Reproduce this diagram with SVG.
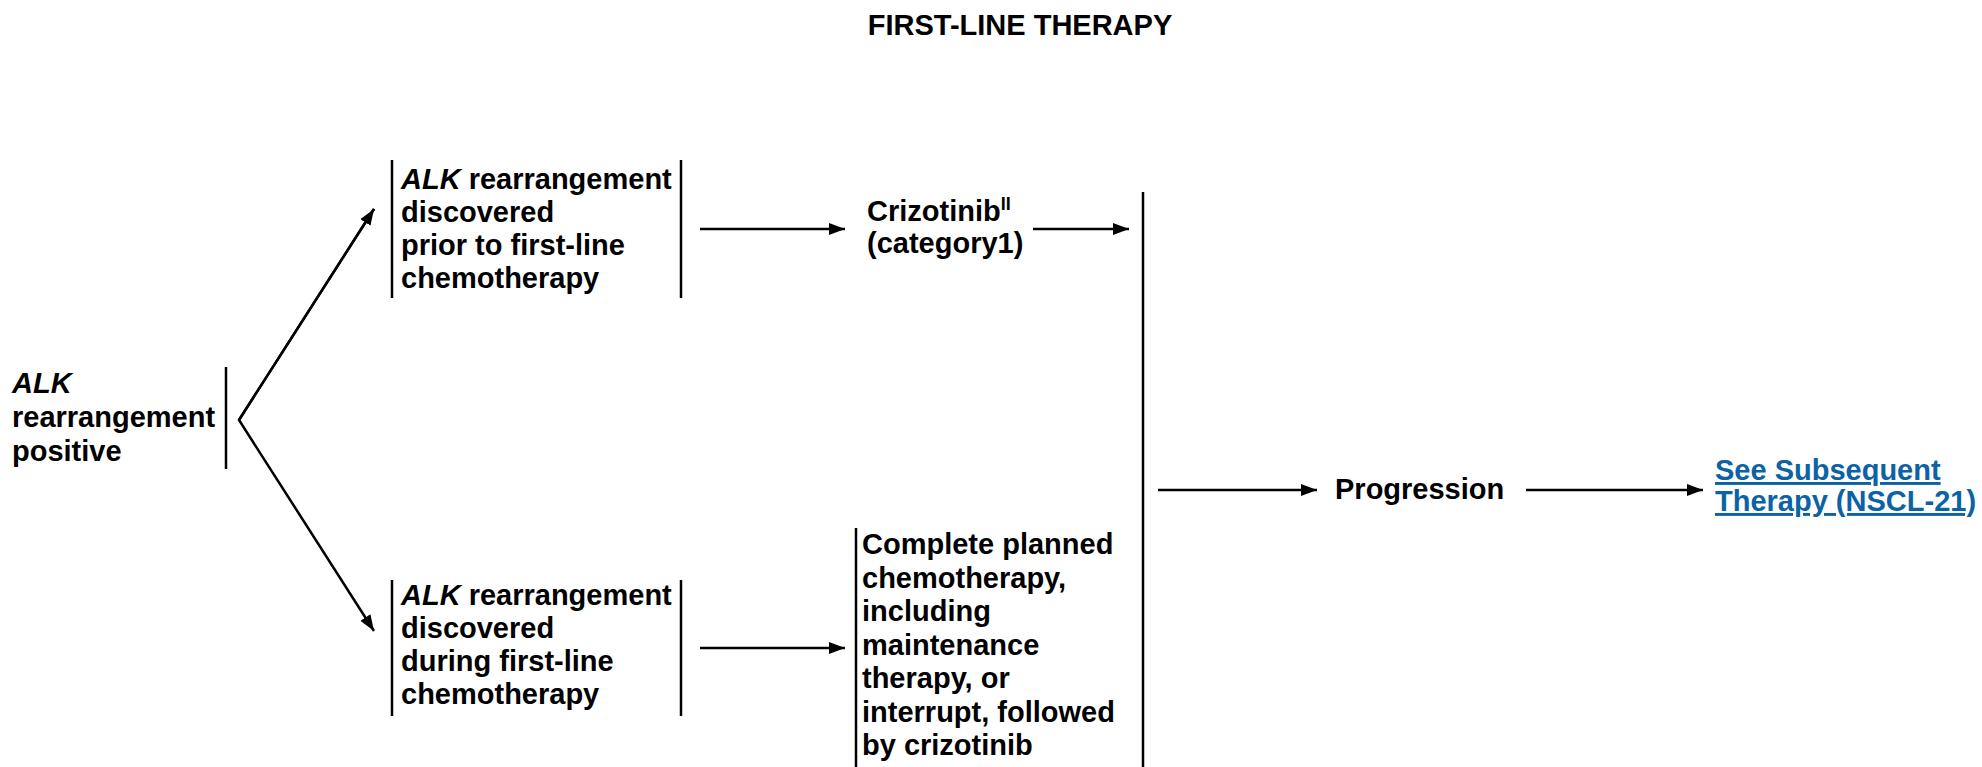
<svg xmlns="http://www.w3.org/2000/svg" width="1982" height="767" viewBox="0 0 1982 767">
<style>
text{font-family:"Liberation Sans",Arial,sans-serif;font-weight:bold;font-size:29px;fill:#000}
.i{font-style:italic}
.sup{font-size:18px}
.link{fill:#0b63a6;text-decoration:underline}
.bar{stroke:#000;stroke-width:2.5;fill:none}
.conn{stroke:#000;stroke-width:2.5;fill:none}
</style>
<defs>
<marker id="ah" markerUnits="userSpaceOnUse" markerWidth="18" markerHeight="14" refX="16" refY="7" orient="auto">
<path d="M0,1 L16,7 L0,13 Z" fill="#000"/>
</marker>
</defs>
<rect width="1982" height="767" fill="#fff"/>
<g id="title"><text x="1020" y="35" text-anchor="middle">FIRST-LINE THERAPY</text></g>
<g id="alk-positive">
<text x="12" y="393"><tspan class="i">ALK</tspan></text>
<text x="12" y="427">rearrangement</text>
<text x="12" y="461">positive</text>
<line class="bar" x1="226" y1="367" x2="226" y2="469"/>
</g>
<g id="prior">
<line class="bar" x1="392" y1="160" x2="392" y2="298"/>
<text x="401" y="189"><tspan class="i">ALK</tspan> rearrangement</text>
<text x="401" y="222">discovered</text>
<text x="401" y="255">prior to first-line</text>
<text x="401" y="288">chemotherapy</text>
<line class="bar" x1="681" y1="160" x2="681" y2="298"/>
</g>
<g id="during">
<line class="bar" x1="392" y1="580" x2="392" y2="716"/>
<text x="401" y="605"><tspan class="i">ALK</tspan> rearrangement</text>
<text x="401" y="638">discovered</text>
<text x="401" y="671">during first-line</text>
<text x="401" y="704">chemotherapy</text>
<line class="bar" x1="681" y1="580" x2="681" y2="716"/>
</g>
<g id="crizotinib">
<text x="867" y="221">Crizotinib<tspan class="sup" dy="-11">II</tspan></text>
<text x="867" y="253">(category1)</text>
</g>
<g id="complete">
<line class="bar" x1="856" y1="528" x2="856" y2="767"/>
<text x="862" y="554">Complete planned</text>
<text x="862" y="588">chemotherapy,</text>
<text x="862" y="621">including</text>
<text x="862" y="655">maintenance</text>
<text x="862" y="688">therapy, or</text>
<text x="862" y="722">interrupt, followed</text>
<text x="862" y="755">by crizotinib</text>
</g>
<g id="merge"><line class="bar" x1="1143" y1="192" x2="1143" y2="767"/></g>
<g id="progression"><text x="1335" y="499">Progression</text></g>
<g id="subsequent">
<text class="link" x="1715" y="480">See Subsequent</text>
<text class="link" x="1715" y="511">Therapy (NSCL-21)</text>
</g>
<g id="connectors">
<polyline class="conn" points="374,209 239,420 374,631" marker-end="url(#ah)"/>
<line class="conn" x1="239" y1="420" x2="374" y2="209" marker-end="url(#ah)"/>
<line class="conn" x1="700" y1="229" x2="845" y2="229" marker-end="url(#ah)"/>
<line class="conn" x1="1033" y1="229" x2="1129" y2="229" marker-end="url(#ah)"/>
<line class="conn" x1="700" y1="648" x2="845" y2="648" marker-end="url(#ah)"/>
<line class="conn" x1="1158" y1="490" x2="1317" y2="490" marker-end="url(#ah)"/>
<line class="conn" x1="1526" y1="490" x2="1703" y2="490" marker-end="url(#ah)"/>
</g>
</svg>
